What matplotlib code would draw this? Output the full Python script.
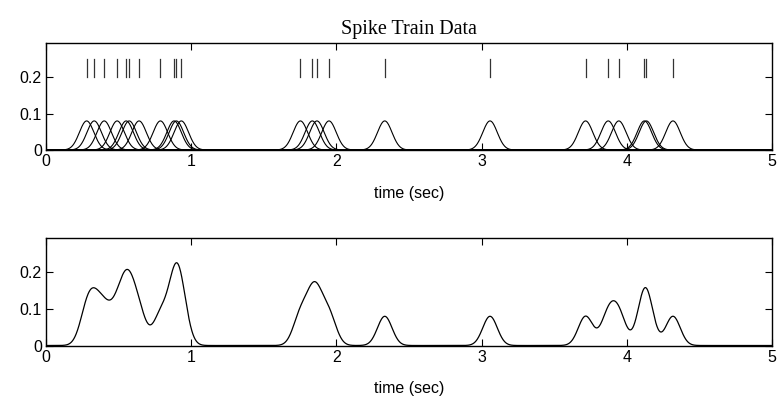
import numpy as np
import matplotlib
matplotlib.use("Agg")
import matplotlib.pyplot as plt

# spike times (sec), read from the raster
spike_times = [0.280, 0.332, 0.401, 0.490, 0.552, 0.573, 0.641, 0.788,
               0.882, 0.898, 0.932,
               1.752, 1.834, 1.866, 1.949,
               2.333, 3.058,
               3.716, 3.872, 3.945, 4.121, 4.135, 4.318]
kernel_sigma = 0.05
kernel_scale = 0.01
tick_low, tick_high = 0.20, 0.25
xticks = [0, 1, 2, 3, 4, 5]
yticks = [0, 0.1, 0.2]
ytick_labels = ["0", "0.1", "0.2"]

t = np.linspace(0, 5, 2001)

def kernel(t, s):
    return kernel_scale * np.exp(-0.5 * ((t - s) / kernel_sigma) ** 2) / (np.sqrt(2 * np.pi) * kernel_sigma)

W, H = 778, 405
fig = plt.figure(figsize=(W / 100, H / 100), dpi=100)
sans = "Liberation Sans"

def style(ax):
    ax.set_xlim(0, 5)
    ax.set_ylim(0, 0.295)
    ax.set_xticks(xticks)
    ax.set_xticklabels([str(v) for v in xticks], fontfamily=sans, fontsize=11.5)
    ax.set_yticks(yticks)
    ax.set_yticklabels(ytick_labels, fontfamily=sans, fontsize=11.5)
    ax.tick_params(direction="in", length=5, width=0.8, top=True, right=True, pad=3)
    for sp in ax.spines.values():
        sp.set_linewidth(1.0)
    ax.set_xlabel("time (sec)", fontfamily=sans, fontsize=11.5, labelpad=12)

ax1 = fig.add_axes([46 / W, 1 - 150 / H, (772 - 46) / W, (150 - 42.5) / H])
for s in spike_times:
    ax1.plot(t, kernel(t, s), color="black", lw=0.8)
    ax1.plot([s, s], [tick_low, tick_high], color="#333333", lw=0.9)
style(ax1)
ax1.set_title("Spike Train Data", fontfamily="Liberation Serif", fontsize=14.5, pad=6)

ax2 = fig.add_axes([46 / W, 1 - 345.5 / H, (772 - 46) / W, (345.5 - 237.5) / H])
total = np.zeros_like(t)
for s in spike_times:
    total += kernel(t, s)
ax2.plot(t, total, color="black", lw=0.9)
style(ax2)

fig.savefig("out.png", dpi=100)
